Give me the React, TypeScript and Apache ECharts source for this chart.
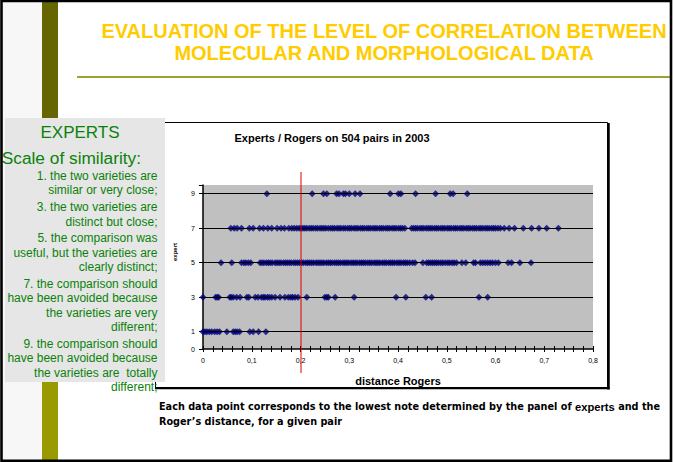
import React, { useEffect, useRef } from 'react';
import * as echarts from 'echarts';

const titleLines = ['EVALUATION OF THE LEVEL OF CORRELATION BETWEEN', 'MOLECULAR AND MORPHOLOGICAL DATA'];
const chartTitle = 'Experts / Rogers on 504 pairs in 2003';
const panelHeading = 'EXPERTS';
const panelSub = 'Scale of similarity:';
const scaleParagraphs = [
  ['1. the two varieties are', 'similar or very close;'],
  ['3. the two varieties are', 'distinct but close;'],
  ['5. the comparison was', 'useful, but the varieties are', 'clearly distinct;'],
  ['7. the comparison should', 'have been avoided because', 'the varieties are very', 'different;'],
  ['9. the comparison should', 'have been avoided because', 'the varieties are  totally', 'different;'],
];
const noteLine1a = 'Each data point corresponds to the lowest note determined by the panel of ';
const noteBold = 'experts';
const noteLine1b = ' and the';
const noteLine2 = 'Roger\u2019s distance, for a given pair';
const xAxisName = 'distance Rogers';
const yAxisName = 'expert';

const xMin = 0;
const xMax = 0.8;
const xTickStep = 0.02;
const xLabelValues = [0, 0.1, 0.2, 0.3, 0.4, 0.5, 0.6, 0.7, 0.8];
const yMin = 0;
const yMax = 9.5;
const yLabelValues = [0, 1, 3, 5, 7, 9];
const yTickValues = [0, 1, 3, 5, 7, 9, 9.5];
const gridValues = [1, 3, 5, 7, 9];
const threshold = 0.2;

const row1 = [0, 0.004, 0.008, 0.013, 0.018, 0.024, 0.029, 0.034, 0.049, 0.062, 0.066, 0.07, 0.075, 0.096, 0.103, 0.114, 0.129];
const row3 = [0, 0.026, 0.029, 0.032, 0.055, 0.058, 0.062, 0.069, 0.076, 0.09, 0.094, 0.107, 0.113, 0.12, 0.124, 0.127, 0.132, 0.136, 0.141, 0.148, 0.158, 0.168, 0.175, 0.18, 0.184, 0.189, 0.195, 0.213, 0.25, 0.254, 0.257, 0.271, 0.31, 0.396, 0.416, 0.457, 0.469, 0.566, 0.584];
const row5 = [0.037, 0.059, 0.079, 0.084, 0.088, 0.093, 0.098, 0.117, 0.121, 0.125, 0.13, 0.134, 0.138, 0.142,
  0.148, 0.152, 0.156, 0.16, 0.165, 0.169, 0.173, 0.177, 0.181, 0.186, 0.19, 0.194, 0.198, 0.202, 0.206, 0.211, 0.215, 0.219, 0.223, 0.227, 0.232, 0.236, 0.24, 0.244, 0.248, 0.253, 0.257, 0.261, 0.265, 0.27, 0.274, 0.278, 0.282, 0.287, 0.291, 0.295, 0.299, 0.304, 0.308, 0.312, 0.316, 0.321, 0.325, 0.329, 0.333, 0.338, 0.342, 0.346, 0.351, 0.355, 0.359, 0.363, 0.368, 0.372, 0.376, 0.381, 0.385, 0.389, 0.393, 0.398, 0.402, 0.406, 0.411, 0.415, 0.419, 0.424, 0.43, 0.435,
  0.451, 0.459, 0.463, 0.467, 0.471, 0.475, 0.479, 0.483, 0.488, 0.492, 0.497, 0.502, 0.506, 0.511, 0.515, 0.52, 0.531, 0.539, 0.555, 0.559, 0.569, 0.574, 0.579, 0.584, 0.589, 0.594, 0.6, 0.606, 0.626, 0.633, 0.65, 0.673];
const row7 = [0.057, 0.064, 0.07, 0.079, 0.095, 0.103, 0.116, 0.124, 0.133, 0.141, 0.152, 0.16, 0.167, 0.176, 0.182, 0.187, 0.192,
  0.197, 0.201, 0.205, 0.209, 0.213, 0.218, 0.222, 0.226, 0.231, 0.235, 0.24, 0.244, 0.248, 0.252, 0.257, 0.262, 0.266, 0.27, 0.275, 0.279, 0.283, 0.288, 0.292, 0.297, 0.301, 0.305, 0.31, 0.314, 0.318, 0.323, 0.327, 0.331, 0.336, 0.34, 0.344, 0.349, 0.353, 0.357, 0.362, 0.366, 0.37, 0.375, 0.379, 0.383, 0.388, 0.392, 0.396, 0.401, 0.405, 0.409, 0.414,
  0.428, 0.432, 0.436, 0.44, 0.445, 0.449, 0.453, 0.458, 0.462, 0.466, 0.47, 0.475, 0.479, 0.483, 0.488, 0.492, 0.496, 0.501, 0.505, 0.509, 0.514, 0.518, 0.522, 0.527, 0.531, 0.535, 0.54, 0.544, 0.548, 0.553, 0.557, 0.561, 0.566, 0.57, 0.574, 0.579, 0.583, 0.587, 0.592, 0.596, 0.6, 0.605, 0.61,
  0.618, 0.628, 0.639, 0.657, 0.674, 0.689, 0.705, 0.729];
const row9 = [0.131, 0.224, 0.247, 0.254, 0.274, 0.279, 0.288, 0.292, 0.3, 0.312, 0.322, 0.384, 0.401, 0.406, 0.436, 0.477, 0.507, 0.513, 0.542];

const rows = [
  { level: 1, xs: row1 },
  { level: 3, xs: row3 },
  { level: 5, xs: row5 },
  { level: 7, xs: row7 },
  { level: 9, xs: row9 },
];

const SANS = '"Liberation Sans", Arial, Helvetica, sans-serif';
const VERD = '"DejaVu Sans", Verdana, sans-serif';
const GREEN = '#0a820a';

function buildGraphics(): any[] {
  const els: any[] = [];
  els.push({ id: 'bg', type: 'rect', z: -20, shape: { x: 0, y: 0, width: 673, height: 462 }, style: { fill: '#ffffff' } });
  els.push({ id: 'strip', type: 'rect', z: -19, shape: { x: 3, y: 0, width: 39, height: 462 }, style: { fill: '#f7f7f7' } });
  els.push({ id: 'barTop', type: 'rect', z: -19, shape: { x: 42, y: 0, width: 16, height: 250 }, style: { fill: '#666600' } });
  els.push({ id: 'barBot', type: 'rect', z: -19, shape: { x: 42, y: 250, width: 16, height: 212 }, style: { fill: '#999900' } });
  els.push({
    id: 'title', type: 'text', z: 5, x: 384, y: 19.5,
    style: { text: titleLines.join('\n'), align: 'center', verticalAlign: 'top', lineHeight: 22.5, fontSize: 20, fontWeight: 'bold', fontFamily: SANS, fill: '#ffcc00' },
  });
  els.push({ id: 'rule', type: 'line', z: 5, shape: { x1: 77, y1: 77, x2: 671, y2: 77 }, style: { stroke: '#a0a030', lineWidth: 2 } });
  els.push({ id: 'frame', type: 'rect', z: -15, shape: { x: 155.5, y: 122.5, width: 452, height: 265 }, style: { fill: '#ffffff', stroke: '#000', lineWidth: 1 } });
  els.push({ id: 'frameR', type: 'line', z: -14, shape: { x1: 608.5, y1: 123, x2: 608.5, y2: 389.5 }, style: { stroke: '#000', lineWidth: 2.5 } });
  els.push({ id: 'frameB', type: 'line', z: -14, shape: { x1: 155, y1: 388.3, x2: 609.5, y2: 388.3 }, style: { stroke: '#000', lineWidth: 2 } });
  els.push({
    id: 'chartTitle', type: 'text', z: 5, x: 332, y: 138,
    style: { text: chartTitle, align: 'center', verticalAlign: 'middle', fontSize: 11, fontWeight: 'bold', fontFamily: SANS, fill: '#000' },
  });
  els.push({
    id: 'yname', type: 'text', z: 5, x: 175, y: 252, rotation: Math.PI / 2,
    style: { text: yAxisName, align: 'center', verticalAlign: 'middle', fontSize: 6, fontWeight: 'bold', fontFamily: SANS, fill: '#000' },
  });
  els.push({ id: 'panel', type: 'rect', z: 4, shape: { x: 5, y: 118, width: 160, height: 264 }, style: { fill: '#e6e6e6' } });
  els.push({
    id: 'pHead', type: 'text', z: 6, x: 80, y: 132.3,
    style: { text: panelHeading, align: 'center', verticalAlign: 'middle', fontSize: 17, fontFamily: SANS, fill: GREEN },
  });
  els.push({
    id: 'pSub', type: 'text', z: 6, x: 141, y: 158.3,
    style: { text: panelSub, align: 'right', verticalAlign: 'middle', fontSize: 17.3, fontFamily: SANS, fill: GREEN },
  });
  let top = 176 - 7.2;
  scaleParagraphs.forEach((p, i) => {
    els.push({
      id: 'para' + i, type: 'text', z: 6, x: 157.5, y: top,
      style: { text: p.join('\n'), align: 'right', verticalAlign: 'top', lineHeight: 14.4, fontSize: 12, fontFamily: SANS, fill: GREEN },
    });
    top += p.length * 14.4 + 2.4;
  });
  els.push({
    id: 'note', type: 'text', z: 6, x: 159, y: 399.3,
    style: {
      text: '{a|' + noteLine1a + '}{b|' + noteBold + '}{a|' + noteLine1b + '}\n{a|' + noteLine2 + '}',
      align: 'left', verticalAlign: 'top', fill: '#000',
      rich: {
        a: { fontSize: 9.7, fontWeight: 'bold', fontFamily: VERD, fill: '#000', lineHeight: 14.6 },
        b: { fontSize: 11.2, fontWeight: 'bold', fontFamily: SANS, fill: '#000', lineHeight: 14.6 },
      },
    },
  });
  els.push({ id: 'border', type: 'rect', z: 50, shape: { x: 1.5, y: 1, width: 669.5, height: 459.8 }, style: { fill: 'none', stroke: '#000', lineWidth: 2.6 } });
  return els;
}

export default function App() {
  const ref = useRef<HTMLDivElement>(null);
  useEffect(() => {
    document.body.style.margin = '0';
    if (!ref.current) return;
    const chart = echarts.init(ref.current, undefined, { renderer: 'svg' });
    const graphics = buildGraphics();
    const option: any = {
      animation: false,
      backgroundColor: '#ffffff',
      grid: {
        left: 203, top: 185, width: 390, height: 164,
        show: true, backgroundColor: '#c0c0c0', borderWidth: 0, containLabel: false, outerBoundsMode: 'none',
      },
      xAxis: [
        {
          type: 'value', min: xMin, max: xMax, interval: xTickStep, position: 'bottom',
          name: xAxisName, nameLocation: 'middle', nameGap: 26,
          nameTextStyle: { fontSize: 11, fontWeight: 'bold', fontFamily: SANS, color: '#000' },
          axisLine: { show: true, lineStyle: { color: '#000', width: 1.5 } },
          axisTick: { show: true, inside: false, length: 3, lineStyle: { color: '#000', width: 1 } },
          axisLabel: {
            customValues: xLabelValues, fontSize: 7, color: '#000', fontFamily: SANS, margin: 8,
            formatter: (v: number) => (v === 0 ? '0' : v.toFixed(1).replace('.', ',')),
          },
          splitLine: { show: false },
        },
        {
          type: 'value', min: xMin, max: xMax, interval: xTickStep, position: 'bottom',
          axisLine: { show: false },
          axisTick: { show: true, inside: true, length: 3, lineStyle: { color: '#000', width: 1 } },
          axisLabel: { show: false },
          splitLine: { show: false },
        },
      ],
      yAxis: {
        type: 'value', min: yMin, max: yMax,
        axisLine: { show: true, lineStyle: { color: '#000', width: 1.5 } },
        axisTick: { show: true, customValues: yTickValues, length: 4, lineStyle: { color: '#000', width: 1 } },
        axisLabel: { customValues: yLabelValues, fontSize: 7, color: '#000', fontFamily: SANS, margin: 8 },
        splitLine: { show: false },
      },
      series: [
        {
          type: 'scatter', data: [], z: 1, silent: true,
          markLine: {
            silent: true, symbol: 'none', label: { show: false },
            lineStyle: { color: '#000', width: 1, type: 'solid' },
            emphasis: { disabled: true },
            data: gridValues.map((v) => ({ yAxis: v })),
          },
        },
        ...rows.map((r) => ({
          type: 'scatter', name: 'expert ' + r.level, z: 3,
          symbol: 'diamond', symbolSize: 7,
          itemStyle: { color: '#000080' },
          data: r.xs.map((x) => [x, r.level]),
        })),
      ],
      graphic: { elements: graphics },
    };
    chart.setOption(option);
    const pTop = chart.convertToPixel({ xAxisIndex: 0, yAxisIndex: 0 }, [threshold, yMax]) as number[];
    const pBot = chart.convertToPixel({ xAxisIndex: 0, yAxisIndex: 0 }, [threshold, yMin]) as number[];
    chart.setOption({
      graphic: {
        elements: [
          ...graphics,
          {
            id: 'thresh', type: 'line', z: 20,
            shape: { x1: pTop[0] + 0.5, y1: pTop[1] - 13, x2: pBot[0] + 0.5, y2: pBot[1] + 24 },
            style: { stroke: '#dd0000', lineWidth: 1 },
          },
        ],
      },
    });
    return () => chart.dispose();
  }, []);
  return <div ref={ref} style={{ width: 673, height: 462 }} />;
}
